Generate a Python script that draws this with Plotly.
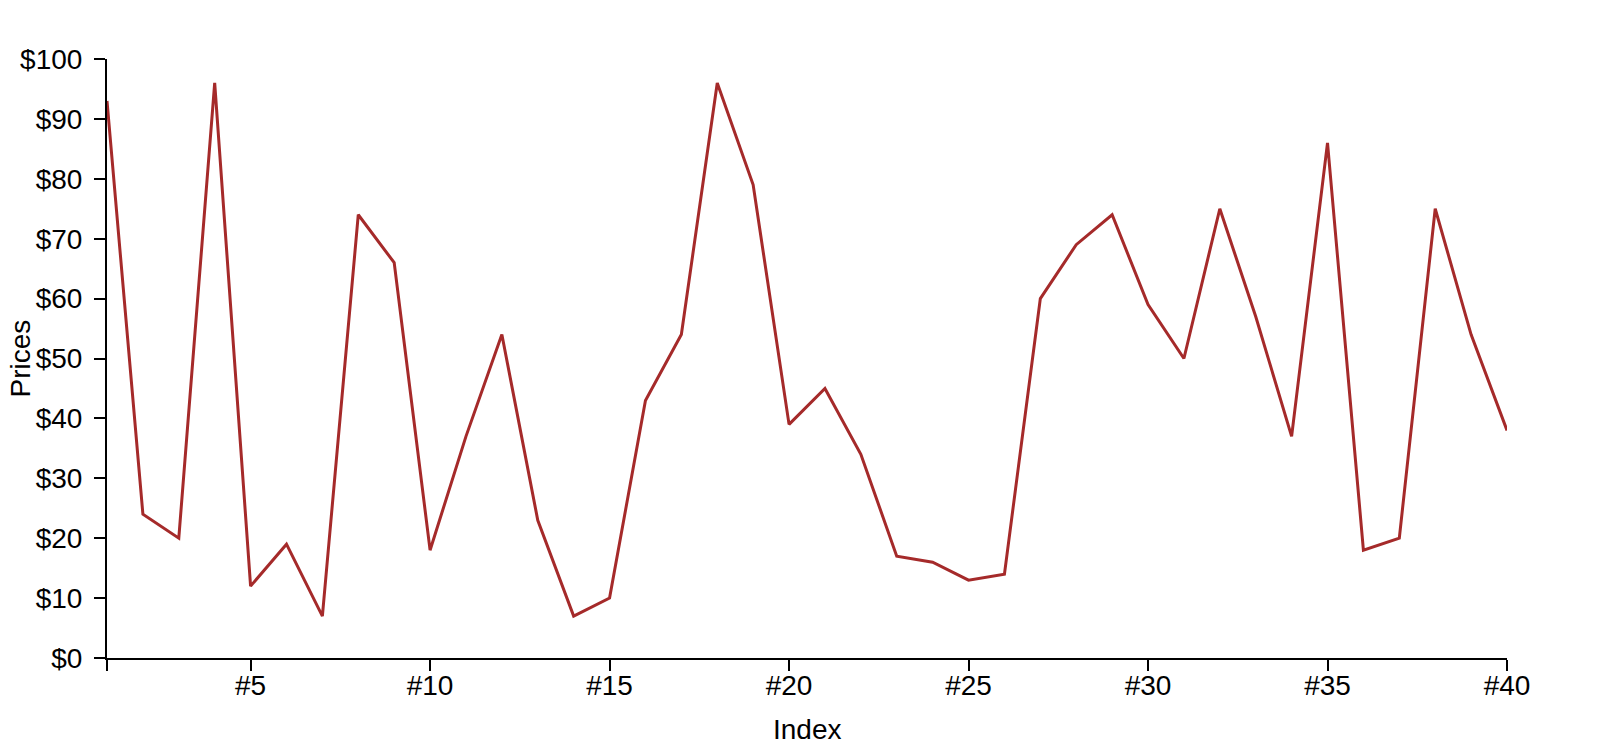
import plotly.graph_objects as go

index = list(range(1, 41))
prices = [93, 24, 20, 96, 12, 19, 7, 74, 66, 18,
          37, 54, 23, 7, 10, 43, 54, 96, 79, 39,
          45, 34, 17, 16, 13, 14, 60, 69, 74, 59,
          50, 75, 57, 37, 86, 18, 20, 75, 54, 38]
x_tick_vals = [1, 5, 10, 15, 20, 25, 30, 35, 40]
x_tick_text = ["", "#5", "#10", "#15", "#20", "#25", "#30", "#35", "#40"]
x_title = "Index"
y_title = "Prices"

fig = go.Figure()
fig.add_trace(go.Scatter(
    x=index, y=prices, mode="lines",
    line=dict(color="#a52a2a", width=3),
    hoverinfo="x+y",
))

font = dict(family="Liberation Sans, Arial, Helvetica, sans-serif", size=28, color="black")

fig.update_layout(
    width=1618, height=754,
    margin=dict(l=99, r=119, t=51, b=104),
    paper_bgcolor="white", plot_bgcolor="white",
    font=font,
    showlegend=False,
    xaxis=dict(
        range=[1, 40], tickvals=x_tick_vals, ticktext=x_tick_text,
        showgrid=False, zeroline=False, automargin=False,
        showline=True, linecolor="black", linewidth=2,
        ticks="outside", ticklen=11, tickwidth=2, tickcolor="black",
        ticklabelstandoff=-10,
    ),
    yaxis=dict(
        range=[0, 100], dtick=10, tickprefix="$",
        showgrid=False, zeroline=False, automargin=False,
        showline=True, linecolor="black", linewidth=2,
        ticks="outside", ticklen=11, tickwidth=2, tickcolor="black",
        ticklabelstandoff=6,
    ),
    annotations=[
        dict(text=x_title, xref="paper", yref="paper", x=0.5, y=0,
             xanchor="center", yanchor="middle", yshift=-71,
             showarrow=False, font=font),
        dict(text=y_title, xref="paper", yref="paper", x=0, y=0.5,
             xanchor="center", yanchor="middle", xshift=-87, textangle=-90,
             showarrow=False, font=font),
    ],
)

fig.write_html("out.html")
